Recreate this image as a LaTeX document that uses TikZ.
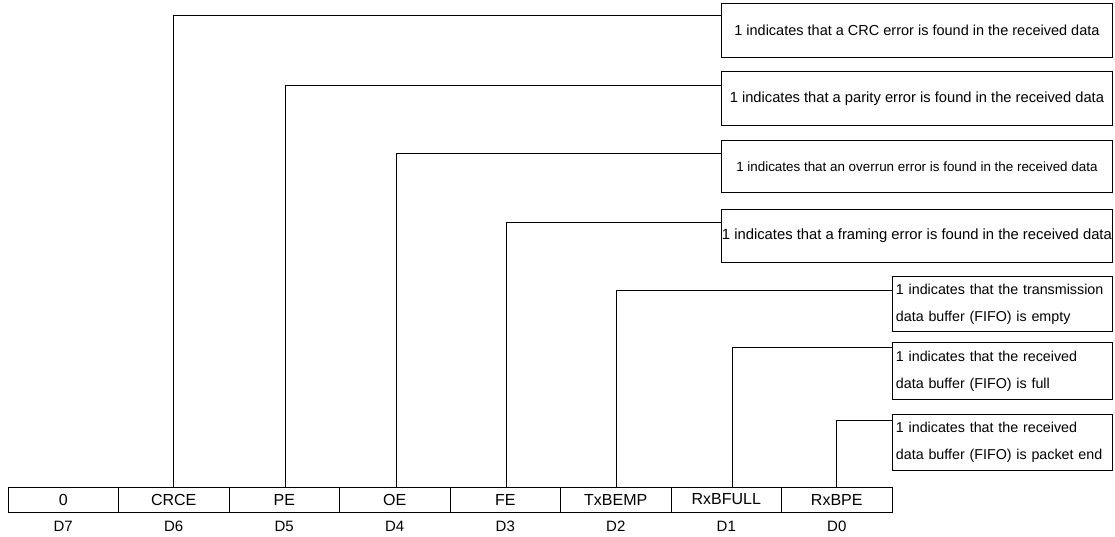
\documentclass[tikz,border=0pt]{standalone}
\usepackage{fontspec}
\setmainfont{Liberation Sans}
\usetikzlibrary{calc}
\begin{document}
\begin{tikzpicture}[x=1pt,y=-1pt,line width=0.8pt,
  cell/.style={draw,minimum width=110.5pt,minimum height=25pt,inner sep=0pt,font=\fontsize{16}{18}\selectfont},
  bitlbl/.style={inner sep=0pt,font=\fontsize{15}{17}\selectfont},
  bigbox/.style={draw,anchor=north west,minimum width=391pt,inner sep=0pt,font=\fontsize{14.5}{16}\selectfont},
  smallbox/.style={draw,anchor=north west,minimum width=220pt,text width=213pt,align=left,inner sep=0pt,inner xsep=3.5pt,font=\fontsize{14.3}{27}\selectfont},
  conn/.style={line width=0.7pt}]
\useasboundingbox (0,0) rectangle (1115,536);
% register cells
\foreach \i/\t [count=\k from 0] in {7/0,6/CRCE,5/PE,4/OE,3/FE,2/TxBEMP,1/RxBFULL,0/RxBPE}{
  \node[cell] (c\i) at ({63.25+110.5*\k},499.5) {\t};
  \node[bitlbl] (d\i) at ({63.25+110.5*\k},526) {D\i};
}
% description boxes
\node[bigbox,minimum height=54pt] (b6) at (721,3) {1 indicates that a CRC error is found in the received data};
\node[bigbox,minimum height=54pt,font=\fontsize{14.7}{16}\selectfont] (b5) at (721,71) {1 indicates that a parity error is found in the received data};
\node[bigbox,minimum height=52pt,font=\fontsize{13.4}{15}\selectfont] (b4) at (721,140) {1 indicates that an overrun error is found in the received data};
\node[bigbox,minimum height=53pt,font=\fontsize{14.8}{16}\selectfont] (b3) at (721,209) {1 indicates that a framing error is found in the received data};
\node[smallbox,minimum height=55pt] (b2) at (892,276) {1 indicates that the transmission\\data buffer (FIFO) is empty};
\node[smallbox,minimum height=57pt] (b1) at (892,342) {1 indicates that the received\\data buffer (FIFO) is full};
\node[smallbox,minimum height=56pt] (b0) at (892,414) {1 indicates that the received\\data buffer (FIFO) is packet end};
% connectors
\draw[conn] (c6.north) |- ($(b6.north west)+(0,12)$);
\draw[conn] ([xshift=1.5pt]c5.north) |- ($(b5.north west)+(0,14)$);
\draw[conn] ([xshift=2pt]c4.north) |- ($(b4.north west)+(0,13)$);
\draw[conn] ([xshift=1.5pt]c3.north) |- ($(b3.north west)+(0,13)$);
\draw[conn] ([xshift=1pt]c2.north) |- ($(b2.north west)+(0,14)$);
\draw[conn] ([xshift=6.5pt]c1.north) |- ($(b1.north west)+(0,5)$);
\draw[conn] (c0.north) |- ($(b0.north west)+(0,6)$);
\end{tikzpicture}
\end{document}
